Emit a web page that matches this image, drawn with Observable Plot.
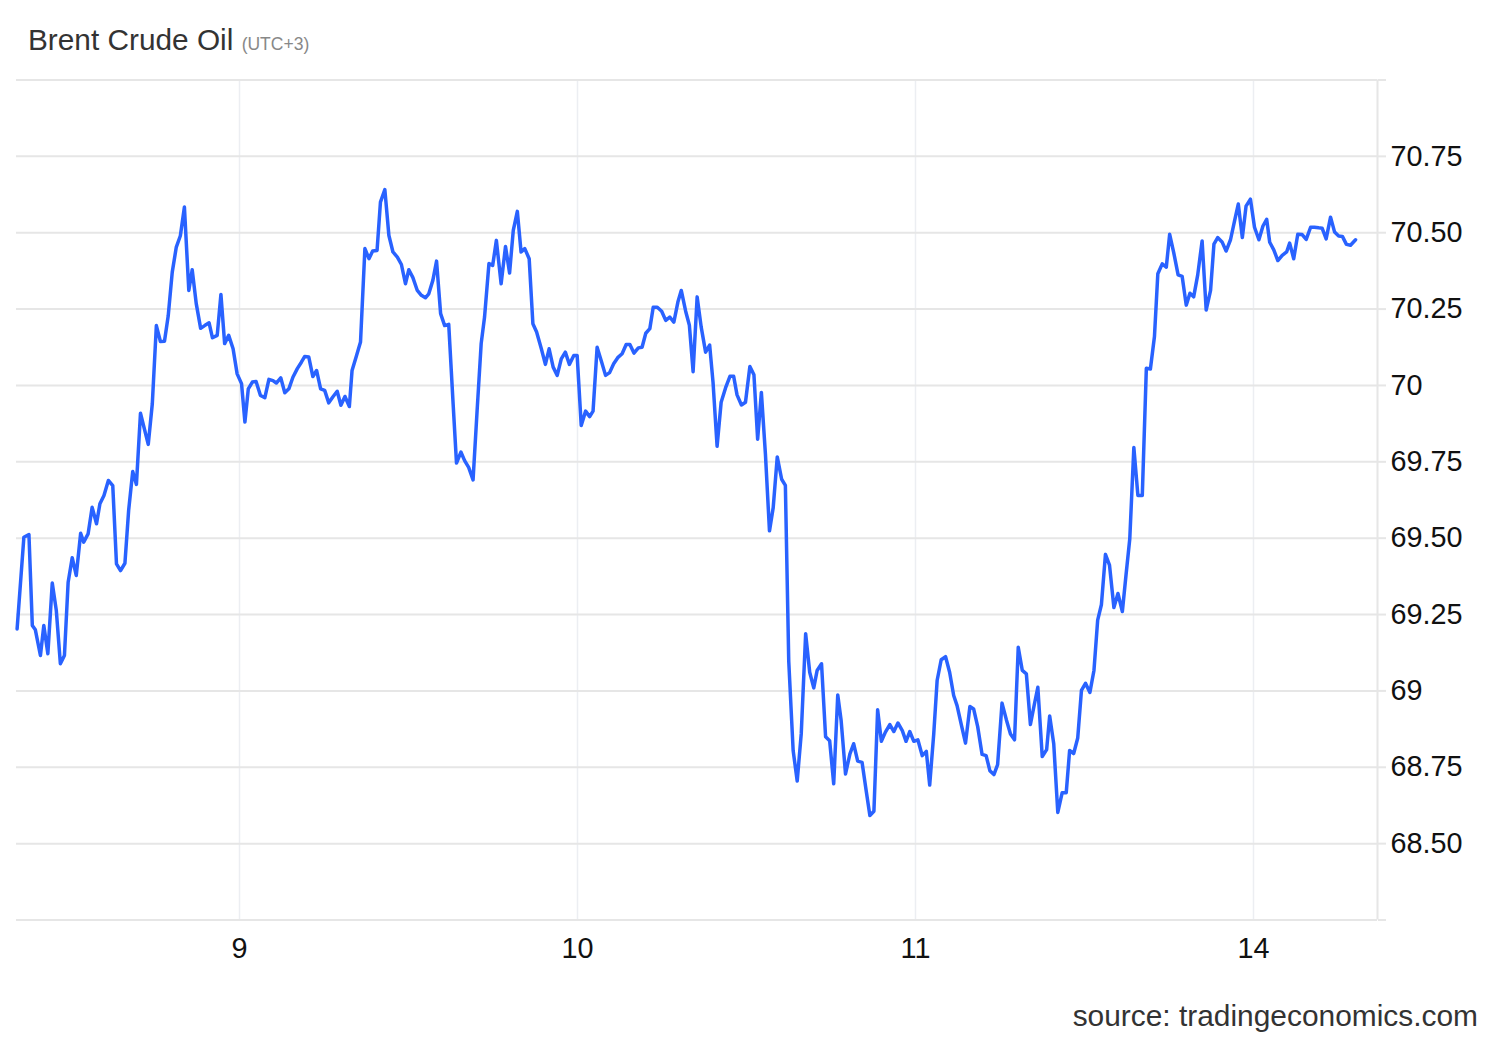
<!DOCTYPE html>
<html>
<head>
<meta charset="utf-8">
<script src="https://cdn.jsdelivr.net/npm/d3@7"></script>
<script src="https://cdn.jsdelivr.net/npm/@observablehq/plot@0.6"></script>
<style>
  html, body { margin: 0; padding: 0; background: #fff; }
  body { width: 1500px; height: 1040px; position: relative; overflow: hidden; font-family: "Liberation Sans", Arial, Helvetica, sans-serif; }
  #title { position: absolute; left: 28px; top: 25px; font-size: 29.8px; line-height: 29.5px; color: #333; white-space: nowrap; }
  #title .tz { font-size: 17.5px; color: #888; }
  #chart { position: absolute; left: 0; top: 70px; }
  #source { position: absolute; right: 22px; top: 1001px; font-size: 29.9px; line-height: 29.5px; color: #333; white-space: nowrap; }
</style>
</head>
<body>
<div id="title">Brent Crude Oil <span class="tz">(UTC+3)</span></div>
<div id="chart"></div>
<div id="source">source: tradingeconomics.com</div>
<script>
// Session position: 1 = day "9", 2 = "10", 3 = "11", 4 = "14"
const times = [
  0.342,0.362,0.377,0.387,0.396,0.411,0.421,0.433,0.446,0.458,
  0.470,0.482,0.493,0.505,0.517,0.530,0.539,0.552,0.564,0.577,
  0.587,0.599,0.612,0.625,0.636,0.648,0.661,0.672,0.684,0.695,
  0.707,0.730,0.742,0.754,0.766,0.778,0.789,0.801,0.813,0.825,
  0.837,0.850,0.860,0.872,0.885,0.897,0.910,0.920,0.934,0.945,
  0.956,0.968,0.981,0.993,
  1.006,1.016,1.026,1.038,1.049,1.062,1.075,1.087,1.099,1.109,
  1.122,1.134,1.146,1.158,1.171,1.183,1.193,1.205,1.217,1.228,
  1.240,1.252,1.264,1.276,1.289,1.300,1.312,1.325,1.333,1.345,
  1.358,1.371,1.383,1.394,1.407,1.417,1.430,1.442,1.454,1.467,
  1.479,1.491,1.501,1.513,1.526,1.538,1.550,1.560,1.572,1.583,
  1.595,1.607,1.619,1.632,1.642,1.655,1.666,1.678,1.691,1.703,
  1.715,1.725,1.738,1.749,1.760,1.774,1.787,1.799,1.810,1.822,
  1.833,1.844,1.857,1.868,1.879,1.893,1.905,1.916,1.928,1.940,
  1.952,1.964,1.976,1.989,1.999,
  2.011,2.024,2.036,2.046,2.058,2.070,2.083,2.095,2.107,2.119,
  2.132,2.144,2.155,2.167,2.180,2.191,2.202,2.214,2.224,2.236,
  2.249,2.261,2.273,2.285,2.297,2.307,2.320,2.331,2.342,2.354,
  2.366,2.379,2.391,2.401,2.413,2.425,2.438,2.451,2.462,2.472,
  2.485,2.497,2.510,2.522,2.533,2.544,2.556,2.568,2.579,2.591,
  2.604,2.615,2.625,2.638,2.650,2.662,2.675,2.687,2.699,2.709,
  2.722,2.734,2.746,2.758,2.770,2.780,2.793,2.806,2.817,2.829,
  2.842,2.854,2.865,2.877,2.888,2.899,2.911,2.924,2.936,2.948,
  2.961,2.972,2.983,2.995,
  3.007,3.020,3.032,3.042,3.054,3.064,3.076,3.089,3.101,3.113,
  3.123,3.136,3.148,3.161,3.172,3.184,3.197,3.209,3.220,3.232,
  3.243,3.256,3.269,3.281,3.293,3.304,3.316,3.328,3.340,3.352,
  3.362,3.375,3.388,3.397,3.409,3.421,3.434,3.446,3.456,3.468,
  3.480,3.491,3.503,3.516,3.528,3.539,3.550,3.562,3.574,3.587,
  3.599,3.612,3.623,3.634,3.646,3.658,3.671,3.683,3.695,3.707,
  3.717,3.730,3.742,3.752,3.764,3.777,3.789,3.801,3.812,3.823,
  3.835,3.848,3.860,3.873,3.883,3.894,3.907,3.919,3.932,3.944,
  3.955,3.967,3.978,3.991,
  4.003,4.016,4.028,4.039,4.048,4.060,4.072,4.085,4.098,4.107,
  4.119,4.131,4.144,4.156,4.169,4.180,4.193,4.203,4.215,4.228,
  4.240,4.252,4.263,4.275,4.287,4.302
];
const prices = [
  69.203,69.503,69.512,69.214,69.200,69.116,69.214,69.122,69.353,69.263,
  69.089,69.116,69.356,69.436,69.378,69.516,69.487,69.514,69.601,69.547,
  69.613,69.640,69.689,69.672,69.416,69.394,69.418,69.591,69.718,69.676,
  69.909,69.807,69.940,70.196,70.144,70.145,70.227,70.371,70.453,70.490,
  70.584,70.311,70.379,70.268,70.187,70.196,70.205,70.156,70.164,70.298,
  70.137,70.164,70.120,70.038,
  70.006,69.880,69.989,70.011,70.013,69.967,69.960,70.020,70.016,70.008,
  70.025,69.976,69.989,70.027,70.055,70.076,70.095,70.093,70.029,70.049,
  69.989,69.984,69.943,69.962,69.981,69.935,69.964,69.931,70.049,70.093,
  70.142,70.448,70.415,70.440,70.442,70.600,70.641,70.491,70.437,70.420,
  70.396,70.333,70.379,70.353,70.311,70.295,70.287,70.300,70.344,70.407,
  70.235,70.196,70.200,69.940,69.746,69.782,69.754,69.732,69.691,69.918,
  70.137,70.224,70.399,70.393,70.475,70.333,70.455,70.368,70.508,70.570,
  70.437,70.448,70.415,70.202,70.175,70.120,70.069,70.120,70.060,70.033,
  70.087,70.109,70.069,70.098,70.098,
  69.869,69.916,69.898,69.916,70.125,70.082,70.033,70.042,70.071,70.091,
  70.104,70.134,70.134,70.106,70.123,70.125,70.171,70.186,70.256,70.256,
  70.243,70.213,70.224,70.207,70.273,70.311,70.243,70.197,70.045,70.290,
  70.191,70.109,70.132,70.010,69.801,69.945,69.992,70.030,70.030,69.969,
  69.936,69.945,70.062,70.035,69.824,69.977,69.775,69.524,69.600,69.766,
  69.693,69.673,69.097,68.805,68.705,68.860,69.187,69.061,69.010,69.067,
  69.089,68.850,68.837,68.696,68.987,68.903,68.728,68.794,68.827,68.770,
  68.766,68.674,68.592,68.606,68.938,68.835,68.865,68.890,68.867,68.895,
  68.870,68.835,68.867,68.835,
  68.840,68.788,68.802,68.692,68.859,69.034,69.102,69.112,69.061,68.985,
  68.952,68.887,68.829,68.949,68.941,68.883,68.792,68.788,68.739,68.726,
  68.759,68.960,68.905,68.859,68.840,69.143,69.067,69.056,68.890,68.958,
  69.012,68.785,68.808,68.918,68.827,68.602,68.667,68.667,68.805,68.795,
  68.846,69.002,69.025,68.995,69.067,69.232,69.282,69.447,69.412,69.273,
  69.319,69.260,69.381,69.498,69.797,69.640,69.640,70.056,70.054,70.160,
  70.366,70.398,70.387,70.495,70.435,70.362,70.357,70.263,70.302,70.290,
  70.362,70.473,70.247,70.311,70.463,70.484,70.470,70.440,70.477,70.539,
  70.594,70.484,70.587,70.610,
  70.518,70.477,70.522,70.544,70.469,70.444,70.409,70.426,70.437,70.466,
  70.415,70.495,70.494,70.478,70.518,70.518,70.516,70.515,70.480,70.551,
  70.502,70.489,70.488,70.462,70.459,70.477
];
const dayTicks = [1, 2, 3, 4];
const dayLabels = ["9", "10", "11", "14"];
const priceGrid = [68.25, 68.5, 68.75, 69, 69.25, 69.5, 69.75, 70, 70.25, 70.5, 70.75, 71];
const priceLabels = [68.5, 68.75, 69, 69.25, 69.5, 69.75, 70, 70.25, 70.5, 70.75];
const xDomain = [0.3402, 4.3669];
const yDomain = [68.25, 71];

const data = times.map((t, i) => ({t, v: prices[i]}));
const fmt = v => priceLabels.includes(v) ? (Number.isInteger(v) ? String(v) : v.toFixed(2)) : "";

const chart = Plot.plot({
  width: 1500,
  height: 900,
  marginTop: 9.5,
  marginBottom: 50.5,
  marginLeft: 16,
  marginRight: 123,
  style: {fontFamily: '"Liberation Sans", Arial, Helvetica, sans-serif', background: "#fff"},
  x: {domain: xDomain},
  y: {domain: yDomain},
  marks: [
    Plot.gridX(dayTicks, {stroke: "#eceef2", strokeOpacity: 1, strokeWidth: 1.5}),
    Plot.gridY(priceGrid, {stroke: "#e6e6e6", strokeOpacity: 1, strokeWidth: 2}),
    Plot.ruleX([xDomain[1]], {y1: yDomain[0], y2: yDomain[1], stroke: "#e6e6e6", strokeWidth: 2}),
    Plot.axisY(priceGrid, {anchor: "right", tickSize: 8, tickPadding: 5, tickFormat: fmt,
      stroke: "#e6e6e6", strokeWidth: 2, strokeOpacity: 1, fill: "#111", fontSize: 28.8, label: null}),
    Plot.axisX(dayTicks, {anchor: "bottom", tickSize: 0, tickPadding: 18,
      tickFormat: d => dayLabels[dayTicks.indexOf(d)], fill: "#111", fontSize: 28.8, label: null}),
    Plot.line(data, {x: "t", y: "v", stroke: "#2962ff", strokeWidth: 3.5, strokeLinejoin: "round"})
  ]
});
document.getElementById("chart").appendChild(chart);
</script>
</body>
</html>
